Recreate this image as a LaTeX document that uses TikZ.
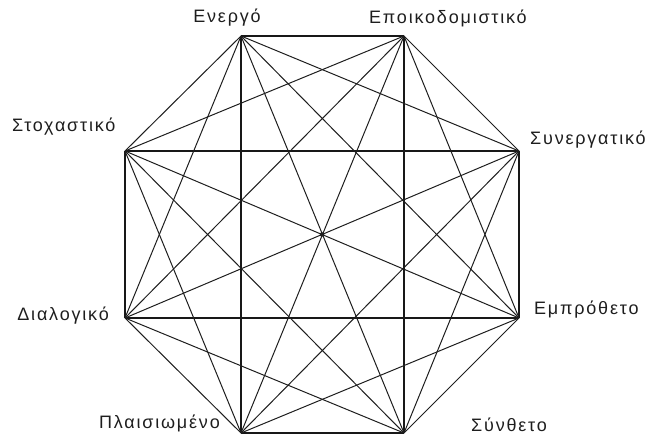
\documentclass[tikz,border=0pt]{standalone}
\usepackage{fontspec}
\setmainfont{Liberation Sans}
\newfontfamily\labelfont[LetterSpace=10]{Liberation Sans}
\usepackage{tikz}
\usetikzlibrary{positioning}
\definecolor{ink}{RGB}{30,30,30}
\tikzset{
  vert/.style={font=\labelfont\fontsize{18}{20}\selectfont,text=ink,inner sep=1pt},
  link/.style={draw=ink,line width=1pt},
  rim/.style={draw=ink!80!black,line width=1.9pt},
  hub/.style={circle,fill=ink,inner sep=0pt,minimum size=4.5pt}
}
\begin{document}
\begin{tikzpicture}[x=1pt,y=-1pt]
\useasboundingbox (0,0) rectangle (651,443);
% corners of the octagon
\coordinate (energo) at (241,36);
\coordinate (epoik) at (404,36);
\coordinate (synerg) at (519,151);
\coordinate (empro) at (519,318);
\coordinate (synth) at (404,433);
\coordinate (plais) at (241,433);
\coordinate (dialog) at (125,318);
\coordinate (stoch) at (125,151);
% labels
\node[vert] (lenergo) at (227,18) {Ενεργό};
\node[vert,anchor=west] (lepoik) at (368,18) {Εποικοδομιστικό};
\node[vert,anchor=west] (lsynerg) at (529,140) {Συνεργατικό};
\node[vert,anchor=west] (lempro) at (533,310) {Εμπρόθετο};
\node[vert,anchor=west] (lsynth) at (470,425) {Σύνθετο};
\node[vert,anchor=east] (lplais) at (221,423) {Πλαισιωμένο};
\node[vert,anchor=east] (ldialog) at (110,316) {Διαλογικό};
\node[vert,anchor=west] (lstoch) at (11,127) {Στοχαστικό};
% straight (axis) lines
\draw[rim] (energo) -- (epoik);
\draw[rim] (stoch) -- (synerg);
\draw[rim] (dialog) -- (empro);
\draw[rim] (plais) -- (synth);
\draw[rim] (stoch) -- (dialog);
\draw[rim] (energo) -- (plais);
\draw[rim] (epoik) -- (synth);
\draw[rim] (synerg) -- (empro);
% slanted lines
\draw[link] (energo) -- (synerg);
\draw[link] (energo) -- (empro);
\draw[link] (energo) -- (synth);
\draw[link] (energo) -- (dialog);
\draw[link] (energo) -- (stoch);
\draw[link] (epoik) -- (synerg);
\draw[link] (epoik) -- (empro);
\draw[link] (epoik) -- (plais);
\draw[link] (epoik) -- (dialog);
\draw[link] (epoik) -- (stoch);
\draw[link] (synerg) -- (synth);
\draw[link] (synerg) -- (plais);
\draw[link] (synerg) -- (dialog);
\draw[link] (empro) -- (synth);
\draw[link] (empro) -- (plais);
\draw[link] (empro) -- (stoch);
\draw[link] (synth) -- (dialog);
\draw[link] (synth) -- (stoch);
\draw[link] (plais) -- (dialog);
\draw[link] (plais) -- (stoch);
\node[hub] (mid) at (322,234.5) {};
\end{tikzpicture}
\end{document}
